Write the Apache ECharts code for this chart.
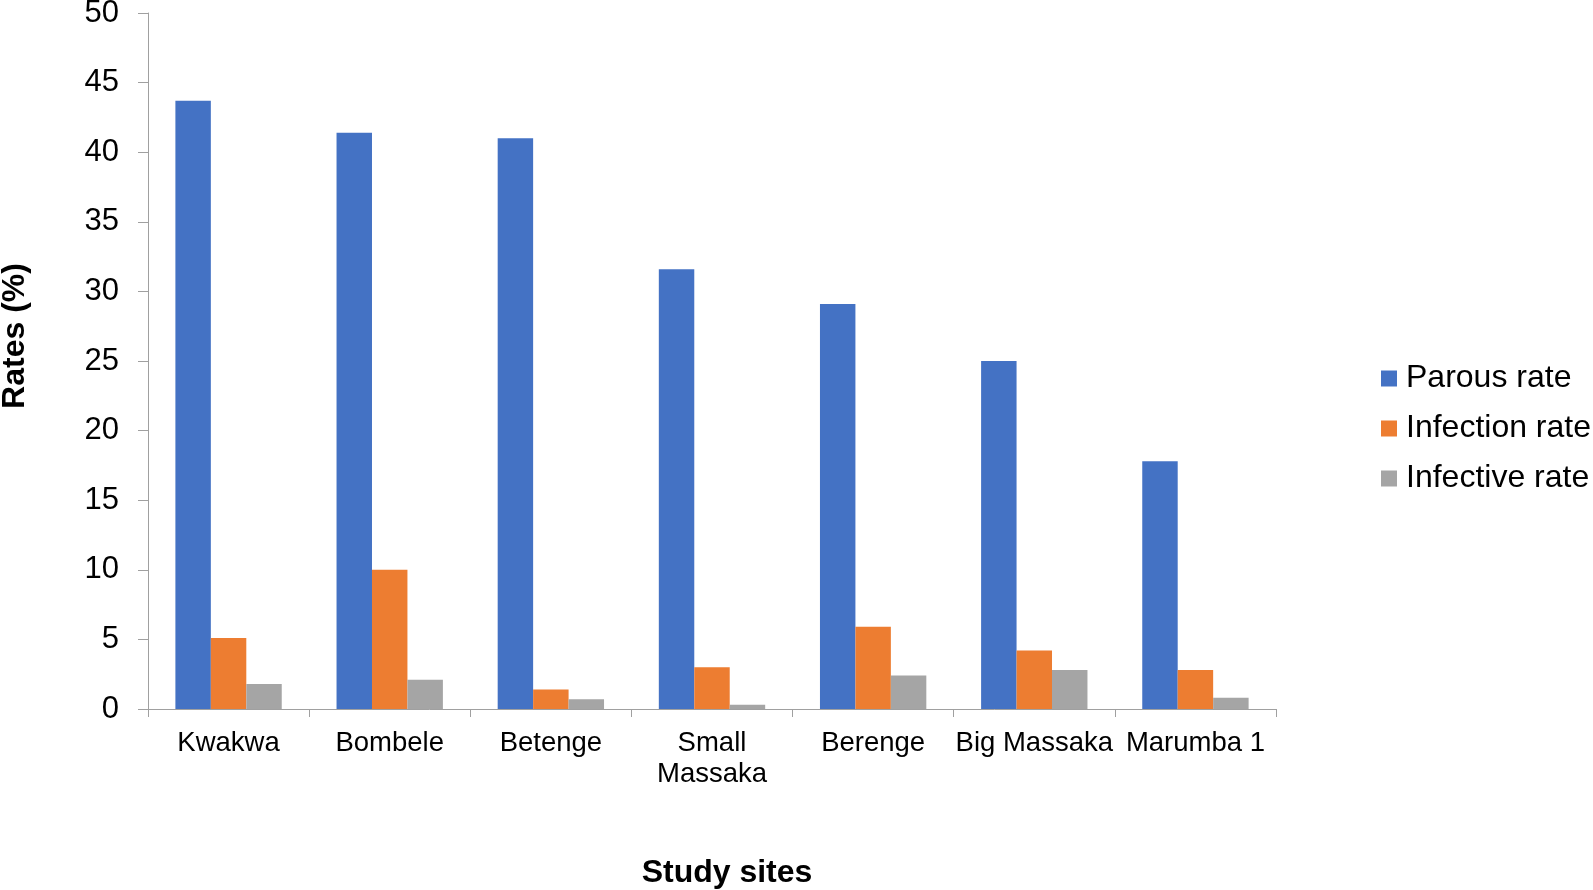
<!DOCTYPE html>
<html>
<head>
<meta charset="utf-8">
<script src="https://cdn.jsdelivr.net/npm/echarts@6/dist/echarts.min.js"></script>
<style>html,body{margin:0;padding:0;background:#fff;}#c{width:1593px;height:890px;}</style>
</head>
<body>
<div id="c"></div>
<script>
const categories = ['Kwakwa', 'Bombele', 'Betenge', 'Small\nMassaka', 'Berenge', 'Big Massaka', 'Marumba 1'];
const parousRate = [43.7, 41.4, 41.0, 31.6, 29.1, 25.0, 17.8];
const infectionRate = [5.1, 10.0, 1.4, 3.0, 5.9, 4.2, 2.8];
const infectiveRate = [1.8, 2.1, 0.7, 0.3, 2.4, 2.8, 0.8];
const seriesNames = ['Parous rate', 'Infection rate', 'Infective rate'];
const yTicks = {min: 0, max: 50, interval: 5};

const FONT = '"Liberation Sans", Arial, sans-serif';
const AXIS_COLOR = '#a0a0a0';
const chart = echarts.init(document.getElementById('c'), null, {renderer: 'canvas'});
chart.setOption({
  animation: false,
  backgroundColor: '#ffffff',
  textStyle: {fontFamily: FONT},
  grid: {left: 148, top: 13, right: 317, bottom: 181, containLabel: false, outerBoundsMode: 'none'},
  legend: {
    orient: 'vertical',
    left: 1381,
    top: 362,
    padding: 0,
    itemWidth: 16,
    itemHeight: 16,
    itemGap: 17,
    icon: 'rect',
    data: seriesNames,
    textStyle: {fontFamily: FONT, fontSize: 32, lineHeight: 33, color: '#000', padding: [0, 0, 0, 4]}
  },
  xAxis: {
    type: 'category',
    data: categories,
    name: 'Study sites',
    nameLocation: 'middle',
    nameGap: 148,
    nameTextStyle: {fontFamily: FONT, fontSize: 32, fontWeight: 'bold', color: '#000', padding: [0, 0, 0, 30]},
    axisLine: {lineStyle: {color: AXIS_COLOR, width: 1}},
    axisTick: {show: true, length: 8, lineStyle: {color: AXIS_COLOR}},
    axisLabel: {fontFamily: FONT, fontSize: 27.5, lineHeight: 31, color: '#000', margin: 19, interval: 0}
  },
  yAxis: {
    type: 'value',
    min: yTicks.min,
    max: yTicks.max,
    interval: yTicks.interval,
    name: 'Rates (%)',
    nameLocation: 'middle',
    nameGap: 117,
    nameRotate: 90,
    nameTextStyle: {fontFamily: FONT, fontSize: 32, fontWeight: 'bold', color: '#000', padding: [0, 0, 0, 50]},
    splitLine: {show: false},
    axisLine: {show: true, lineStyle: {color: AXIS_COLOR, width: 1}},
    axisTick: {show: true, length: 10, lineStyle: {color: AXIS_COLOR}},
    axisLabel: {fontFamily: FONT, fontSize: 31, color: '#000', margin: 29}
  },
  series: [
    {name: seriesNames[0], type: 'bar', data: parousRate, itemStyle: {color: '#4472C4'}, barGap: '0%', barCategoryGap: '34%'},
    {name: seriesNames[1], type: 'bar', data: infectionRate, itemStyle: {color: '#ED7D31'}, barGap: '0%', barCategoryGap: '34%'},
    {name: seriesNames[2], type: 'bar', data: infectiveRate, itemStyle: {color: '#A5A5A5'}, barGap: '0%', barCategoryGap: '34%'}
  ]
});
</script>
</body>
</html>
